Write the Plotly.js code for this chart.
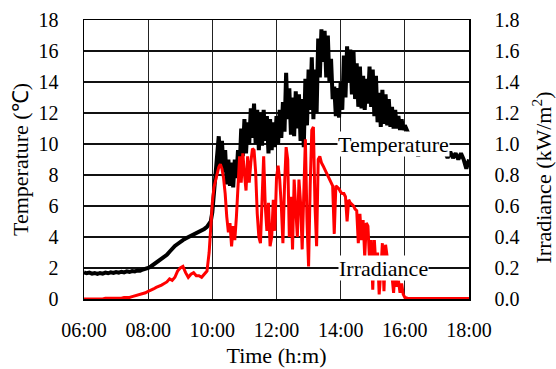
<!DOCTYPE html>
<html>
<head>
<meta charset="utf-8">
<script src="https://cdn.plot.ly/plotly-3.0.1.min.js"></script>
<style>html,body{margin:0;padding:0;background:#fff;}#chart{width:556px;height:369px;}</style>
</head>
<body>
<div id="chart"></div>
<script>
// Tick labels
const xTickVals = [6, 8, 10, 12, 14, 16, 18];
const xTickText = ["06:00", "08:00", "10:00", "12:00", "14:00", "16:00", "18:00"];

// Temperature (°C): morning every 5 min from 06:00
const tempMorningStart = "06:00", tempMorningStep = 5;
const tempMorning = [1.72,1.66,1.7,1.64,1.68,1.62,1.68,1.64,1.7,1.66,1.72,1.68,1.74,1.7,1.76,1.72,1.78,1.74,1.8,1.78,1.84,1.82,1.9,1.92,2.0,2.1,2.22,2.32,2.45,2.55,2.7,2.85,3.05,3.25,3.42,3.55,3.7,3.8,3.9,3.98,4.06,4.14,4.24,4.3,4.42,4.52,4.65];
// Temperature: day every 3 min from 09:54
const tempDayStart = "09:54", tempDayStep = 3;
const tempDay = [4.8,5.0,5.6,6.8,8.2,9.4,10.5,8.6,10.2,8.2,9.6,7.4,9.0,7.3,8.8,7.2,9.0,7.8,9.6,8.4,11.0,9.2,11.6,9.4,11.4,10.0,12.3,10.4,12.6,10.0,12.2,9.6,12.0,9.9,12.2,10.2,11.8,9.4,11.6,9.6,11.4,9.8,11.8,10.0,12.2,10.4,12.7,10.8,14.6,11.6,13.6,10.6,13.0,10.5,13.4,11.0,13.2,10.2,12.9,9.8,14.2,11.2,14.8,12.2,15.6,11.6,14.8,12.0,16.8,14.3,17.4,15.3,17.3,14.3,17.0,14.0,15.5,12.9,13.7,11.8,13.6,11.7,14.0,12.2,15.7,13.0,16.3,14.0,16.1,13.2,16.0,12.9,15.2,12.4,15.0,12.3,14.4,12.2,14.2,12.6,15.0,12.4,14.8,11.8,14.4,11.4,13.3,11.1,13.5,11.3,13.2,11.2,12.9,11.1,12.4,11.0,12.2,11.0,11.8,10.9,11.6,10.9,11.2];
// Temperature: evening every 5 min from 16:05
const tempEveningStart = "16:05", tempEveningStep = 5;
const tempEvening = [10.8,10.4,10.0,9.8,9.2,9.7,9.8,9.7,9.8,9.7,9.6,9.7,9.6,9.5,9.5,9.1,9.5,9.1,9.4,9.0,9.4,9.0,8.4,9.0];

// Irradiance (kW/m2): morning every 5 min from 06:00
const irrMorningStart = "06:00", irrMorningStep = 5;
const irrMorning = [0.0,0.0,0.0,0.0,0.0,0.0,0.0,0.0,0.005,0.005,0.005,0.005,0.005,0.005,0.005,0.01,0.01,0.01,0.015,0.02,0.02,0.03,0.035,0.04,0.05,0.055,0.065,0.075,0.08,0.09,0.10,0.11,0.13,0.12,0.14,0.18,0.20,0.21,0.17,0.14,0.16,0.17,0.15,0.15,0.14,0.16,0.18];
// Irradiance: day every 3 min from 09:54
const irrDayStart = "09:54", irrDayStep = 3;
const irrDay = [0.30,0.50,0.62,0.72,0.77,0.82,0.85,0.87,0.84,0.78,0.68,0.53,0.43,0.49,0.34,0.47,0.38,0.53,0.70,0.92,0.75,0.94,0.81,0.70,0.92,0.75,0.88,0.97,0.96,0.82,0.55,0.40,0.36,0.60,0.92,0.60,0.44,0.62,0.34,0.40,0.64,0.44,0.78,0.86,0.77,0.60,0.36,0.73,0.98,0.90,0.40,0.66,0.32,0.77,0.60,0.40,0.77,0.62,0.32,0.70,1.03,0.51,0.21,0.73,1.09,1.11,0.60,0.34,0.90,0.92,0.88,0.86,0.84,0.81,0.80,0.78,0.75,0.73,0.42,0.73,0.72,0.71,0.69,0.68,0.68,0.66,0.50,0.64,0.62,0.61,0.60,0.58,0.57,0.36,0.55,0.38,0.51,0.27,0.49,0.47,0.25,0.38,0.06,0.38,0.21,0.30,0.03,0.17,0.36,0.05,0.35,0.27,0.22,0.21,0.15,0.04,0.20,0.08,0.12,0.04,0.10,0.03,0.01];
// Irradiance: evening every 5 min from 16:05
const irrEveningStart = "16:05", irrEveningStep = 5;
const irrEvening = [0.005,0.004,0.004,0.004,0.004,0.004,0.004,0.004,0.004,0.004,0.004,0.004,0.004,0.004,0.004,0.004,0.004,0.004,0.004,0.004,0.004,0.004,0.004,0.004];

function hhmm(s){const p=s.split(":");return +p[0] + (+p[1])/60;}
function times(start, stepMin, n){const t0=hhmm(start);const out=[];for(let i=0;i<n;i++)out.push(t0+i*stepMin/60);return out;}

const tempX = [].concat(times(tempMorningStart,tempMorningStep,tempMorning.length),
                        times(tempDayStart,tempDayStep,tempDay.length),
                        times(tempEveningStart,tempEveningStep,tempEvening.length));
const tempY = [].concat(tempMorning, tempDay, tempEvening);
const irrX = [].concat(times(irrMorningStart,irrMorningStep,irrMorning.length),
                       times(irrDayStart,irrDayStep,irrDay.length),
                       times(irrEveningStart,irrEveningStep,irrEvening.length));
const irrY = [].concat(irrMorning, irrDay, irrEvening);

const FONT = "'Liberation Serif', 'Times New Roman', serif";

const data = [
  {x: tempX, y: tempY, type: "scatter", mode: "lines", name: "Temperature",
   line: {color: "#000000", width: 4}, yaxis: "y", hoverinfo: "skip"},
  {x: irrX, y: irrY, type: "scatter", mode: "lines", name: "Irradiance",
   line: {color: "#ff0000", width: 3}, yaxis: "y2", hoverinfo: "skip"}
];

const layout = {
  width: 556, height: 369,
  margin: {l: 84, r: 87, t: 20, b: 70, pad: 0},
  paper_bgcolor: "#ffffff", plot_bgcolor: "#ffffff",
  showlegend: false,
  font: {family: FONT, size: 20, color: "#000"},
  xaxis: {
    range: [6, 18], tickmode: "array", tickvals: xTickVals, ticktext: xTickText,
    showgrid: true, gridcolor: "#222", gridwidth: 1.3,
    showline: true, linecolor: "#000", linewidth: 1.5, mirror: true,
    ticks: "", zeroline: false, ticklabelstandoff: 12,
    tickfont: {family: FONT, size: 20, color: "#000"},
    title: {text: "Time (h:m)", font: {family: FONT, size: 22, color: "#000"}, standoff: 8}
  },
  yaxis: {
    range: [0, 18], dtick: 2, tick0: 0,
    showgrid: true, gridcolor: "#111", gridwidth: 1.3,
    showline: true, linecolor: "#000", linewidth: 1.5, mirror: true,
    ticks: "", zeroline: false, ticklabelstandoff: 20,
    tickfont: {family: FONT, size: 20, color: "#000"},
    title: {text: "Temperature (℃)", font: {family: FONT, size: 22, color: "#000"}, standoff: 4}
  },
  yaxis2: {
    range: [0, 1.8], dtick: 0.2, tick0: 0, tickformat: ".1f",
    overlaying: "y", side: "right", showgrid: false,
    showline: true, linecolor: "#000", linewidth: 1.5,
    ticks: "", zeroline: false, ticklabelstandoff: 20,
    tickfont: {family: FONT, size: 20, color: "#000"}
  },
  annotations: [
    {x: 15.64, y: 10, xref: "x", yref: "y", text: "Temperature", showarrow: false,
     font: {family: FONT, size: 22, color: "#000"}, bgcolor: "#ffffff", borderpad: 0, height: 24},
    {x: 15.35, y: 0.2, xref: "x", yref: "y2", text: "Irradiance", showarrow: false,
     font: {family: FONT, size: 22, color: "#000"}, bgcolor: "#ffffff", borderpad: 0, height: 24},
    {x: 1.19, y: 0.436, xref: "paper", yref: "paper", text: "Irradiance (kW/m<sup>2</sup>)",
     showarrow: false, textangle: -90, font: {family: FONT, size: 22, color: "#000"},
     xanchor: "center", yanchor: "middle"}
  ]
};

Plotly.newPlot("chart", data, layout, {staticPlot: true, displayModeBar: false});
</script>
</body>
</html>
